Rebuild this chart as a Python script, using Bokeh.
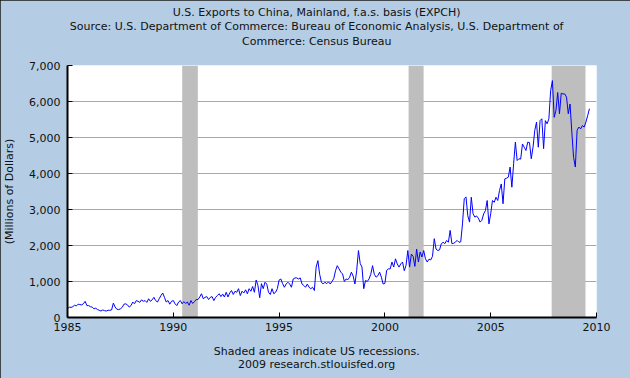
import numpy as np
from bokeh.plotting import figure
from bokeh.models import Title, NumeralTickFormatter, FixedTicker, Range1d, ColumnDataSource
from bokeh.embed import file_html
from bokeh.resources import INLINE

# ---- data (millions of dollars, monthly) ----
first_year = 1985
exports_1985 = [240, 290, 280, 300, 340, 320, 370, 360, 350, 380, 450, 330]
exports_1986 = [330, 300, 290, 240, 260, 220, 200, 180, 210, 190, 180, 200]
exports_1987 = [200, 210, 400, 290, 230, 220, 240, 280, 370, 380, 350, 290]
exports_1988 = [330, 430, 380, 470, 450, 420, 490, 450, 470, 420, 520, 450]
exports_1989 = [490, 560, 470, 430, 520, 610, 680, 560, 430, 470, 370, 450]
exports_1990 = [470, 380, 330, 430, 470, 380, 440, 390, 430, 340, 470, 390]
exports_1991 = [440, 500, 500, 570, 660, 520, 560, 580, 500, 560, 580, 470]
exports_1992 = [560, 610, 660, 580, 650, 570, 700, 570, 680, 750, 640, 730]
exports_1993 = [700, 800, 610, 730, 680, 770, 660, 800, 730, 860, 700, 1040]
exports_1994 = [890, 550, 940, 800, 980, 930, 700, 640, 800, 660, 700, 800]
exports_1995 = [1040, 1070, 940, 840, 930, 980, 930, 840, 1070, 1100, 1100, 1070]
exports_1996 = [1100, 930, 890, 840, 930, 840, 800, 840, 750, 1400, 1580, 1200]
exports_1997 = [980, 930, 980, 940, 990, 930, 1000, 1080, 1300, 1440, 1350, 1260]
exports_1998 = [1210, 1000, 1070, 1050, 1120, 1260, 1150, 930, 1300, 1860, 1500, 1400]
exports_1999 = [800, 1030, 1000, 1070, 1200, 1440, 1200, 1120, 1160, 1260, 1120, 930]
exports_2000 = [950, 1310, 1350, 1350, 1540, 1400, 1630, 1490, 1400, 1490, 1540, 1300]
exports_2001 = [1450, 1860, 1400, 1760, 1700, 1420, 1900, 1540, 1820, 1680, 1860, 1630]
exports_2002 = [1540, 1620, 1600, 1700, 2190, 1900, 1860, 1880, 2050, 2090, 2050, 2140]
exports_2003 = [2090, 2420, 2050, 2060, 2100, 2140, 2090, 2100, 2600, 3300, 3350, 2830]
exports_2004 = [2650, 3340, 2880, 2790, 2820, 2760, 2650, 2700, 2880, 2970, 3250, 2600]
exports_2005 = [2880, 3250, 3200, 3340, 3250, 3530, 3710, 3160, 3850, 3870, 3900, 4180]
exports_2006 = [3620, 4270, 4870, 4360, 4410, 4400, 4820, 4730, 4640, 4870, 4860, 4410]
exports_2007 = [4730, 5200, 5430, 4730, 5470, 5520, 4690, 5470, 5380, 5520, 6300, 6580]
exports_2008 = [5560, 5750, 6250, 5660, 6230, 6210, 6210, 6120, 5660, 5930, 5150, 4450]
exports_2009 = [4180, 5200, 5290, 5240, 5330, 5290, 5430, 5610, 5800]

recession_start = [1990.42, 2001.12, 2007.88]
recession_end = [1991.16, 2001.83, 2009.48]

x_ticks = [1985, 1990, 1995, 2000, 2005, 2010]
y_ticks = [0, 1000, 2000, 3000, 4000, 5000, 6000, 7000]

title_lines = [
    "U.S. Exports to China, Mainland, f.a.s. basis (EXPCH)",
    "Source: U.S. Department of Commerce: Bureau of Economic Analysis, U.S. Department of",
    "Commerce: Census Bureau",
]
footer_lines = ["Shaded areas indicate US recessions.", "2009 research.stlouisfed.org"]
y_label = "(Millions of Dollars)"

# ---- build series ----
all_years = [exports_1985, exports_1986, exports_1987, exports_1988, exports_1989,
             exports_1990, exports_1991, exports_1992, exports_1993, exports_1994,
             exports_1995, exports_1996, exports_1997, exports_1998, exports_1999,
             exports_2000, exports_2001, exports_2002, exports_2003, exports_2004,
             exports_2005, exports_2006, exports_2007, exports_2008, exports_2009]
xs, ys = [], []
for i, vals in enumerate(all_years):
    for m, v in enumerate(vals):
        xs.append(first_year + i + m / 12.0)
        ys.append(v)

BG = "#B4CDE4"
FONT = "DejaVu Sans"
TXT = "#111111"

W, H = 630, 378
BL, BR, BT, BB = 67, 34, 65, 61

p = figure(width=W, height=H,
           x_range=Range1d(1985, 2010), y_range=Range1d(0, 7000),
           output_backend="svg", toolbar_location=None, title_location=None,
           min_border_left=BL, min_border_right=BR, min_border_top=BT, min_border_bottom=BB)
p.background_fill_color = "white"
p.border_fill_color = BG
p.outline_line_color = None
p.styles = {"outline": "1px solid #1a1a1a", "outline-offset": "-1px"}

p.xgrid.grid_line_color = None
p.ygrid.grid_line_color = "#A8A8A8"
p.ygrid.grid_line_width = 1

# recession shading
rec = ColumnDataSource(dict(left=recession_start, right=recession_end,
                            bottom=[0] * len(recession_start), top=[7000] * len(recession_start)))
p.quad(left="left", right="right", bottom="bottom", top="top", source=rec,
       fill_color="#BEBEBE", line_color=None)

p.line(xs, ys, line_color="#0000FF", line_width=1)

for ax in (p.xaxis[0], p.yaxis[0]):
    ax.axis_line_color = "black"
    ax.axis_line_width = 2
    ax.major_tick_in = 5
    ax.major_tick_out = 0
    ax.major_tick_line_color = "black"
    ax.minor_tick_line_color = None
    ax.major_label_text_font = FONT
    ax.major_label_text_font_size = "11px"
    ax.major_label_text_color = TXT

p.xaxis.ticker = FixedTicker(ticks=x_ticks)
p.xaxis.formatter = NumeralTickFormatter(format="0")
p.xaxis.major_label_standoff = 5
p.yaxis.ticker = FixedTicker(ticks=y_ticks)
p.ygrid.ticker = FixedTicker(ticks=y_ticks)
p.yaxis.formatter = NumeralTickFormatter(format="0,0")
p.yaxis.major_label_standoff = 7
p.yaxis.axis_label = y_label
p.yaxis.axis_label_text_font = FONT
p.yaxis.axis_label_text_font_size = "11px"
p.yaxis.axis_label_text_font_style = "normal"
p.yaxis.axis_label_text_color = TXT
p.yaxis.axis_label_standoff = 10


def txt_title(text, offset, standoff, size="11px"):
    return Title(text=text, align="left", offset=offset, standoff=standoff,
                 text_font=FONT, text_font_size=size, text_font_style="normal",
                 text_color=TXT)

# above: panels stack outward from the frame in the order they are added
p.add_layout(txt_title(" ", 0, 2.6), "above")                 # spacer
p.add_layout(txt_title(title_lines[2], 174.5, 0), "above")
p.add_layout(txt_title(title_lines[1], 2.3, -1.6), "above")
p.add_layout(txt_title(title_lines[0], 105.3, 2), "above")

# below: after the x axis
p.add_layout(txt_title(" ", 0, -5.8), "below")                # spacer
p.add_layout(txt_title(footer_lines[0], 146.3, 0), "below")
p.add_layout(txt_title(footer_lines[1], 170.5, -1.6), "below")

open("out.html", "w").write(file_html(p, INLINE))
